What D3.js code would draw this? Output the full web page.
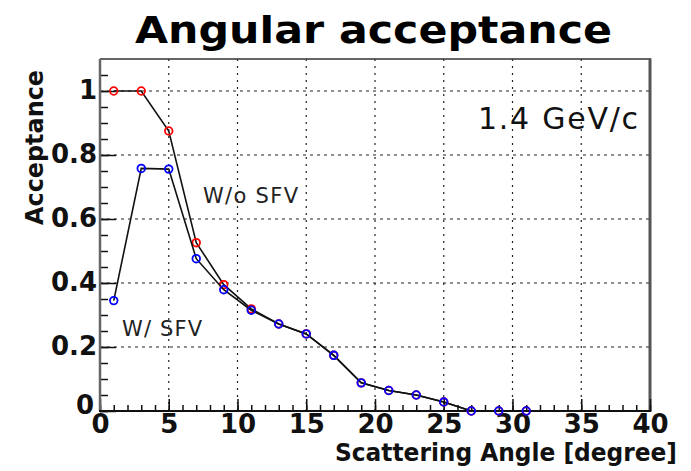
<!DOCTYPE html>
<html>
<head>
  <meta charset="UTF-8">
  <style>
body{
    margin: 0;
    background: #fff;
}
svg text{
    font-family: "DejaVu Sans", sans-serif;
}
  </style>
</head>
<body>
<svg></svg>

<script src="https://d3js.org/d3.v7.min.js"></script>
<script>

// data
const angle = [1, 3, 5, 7, 9, 11, 13, 15, 17, 19, 21, 23, 25, 27, 29, 31];
const accNoSfv = [1.0, 1.0, 0.875, 0.526, 0.395, 0.319, 0.272, 0.241, 0.174, 0.088, 0.064, 0.05, 0.028, 0, 0, 0];
const accSfv = [0.345, 0.758, 0.756, 0.476, 0.379, 0.315, 0.272, 0.241, 0.174, 0.088, 0.064, 0.05, 0.028, 0, 0, 0];
const xTicks = [0, 5, 10, 15, 20, 25, 30, 35, 40];
const yTicks = [0, 0.2, 0.4, 0.6, 0.8, 1];

let width = 691, height = 471;
let padL = 100, padR = 650, padT = 59, padB = 411;

let svg = d3.select("svg")
    .attr("width", width)
    .attr("height", height)

let x = d3.scaleLinear().domain([0, 40]).range([padL, padR]);
let y = d3.scaleLinear().domain([0, 1.1]).range([padB, padT]);

// grid
svg.append("g")
  .selectAll("line")
  .data(xTicks.filter(d => d > 0 && d < 40))
  .enter()
  .append("line")
    .attr("x1", d => x(d)).attr("x2", d => x(d))
    .attr("y1", padT).attr("y2", padB)
    .attr("stroke", "#222")
    .attr("stroke-width", 1.2)
    .attr("stroke-dasharray", "2,5")

svg.append("g")
  .selectAll("line")
  .data(yTicks.filter(d => d > 0))
  .enter()
  .append("line")
    .attr("x1", padL).attr("x2", padR)
    .attr("y1", d => y(d)).attr("y2", d => y(d))
    .attr("stroke", "#222")
    .attr("stroke-width", 1.2)
    .attr("stroke-dasharray", "3,4")

// frame
svg.append("line")
    .attr("x1", padL).attr("x2", padR + 1)
    .attr("y1", padT).attr("y2", padT)
    .attr("stroke", "#333").attr("stroke-width", 1.5)
svg.append("line")
    .attr("x1", padR).attr("x2", padR)
    .attr("y1", padT - 0.5).attr("y2", padB + 1)
    .attr("stroke", "#555").attr("stroke-width", 3)

// x axis: minor + major ticks pointing inward
let xMinor = svg.append("g")
    .attr("transform", "translate(0," + padB + ")")
    .call(d3.axisBottom(x).ticks(40).tickSize(-6).tickFormat(""))
let xMajor = svg.append("g")
    .attr("transform", "translate(0," + padB + ")")
    .call(d3.axisBottom(x).tickValues(xTicks).tickSize(-12).tickPadding(4).tickFormat(d3.format("d")))

// y axis
let yMinor = svg.append("g")
    .attr("transform", "translate(" + padL + ",0)")
    .call(d3.axisLeft(y).tickValues(d3.range(0, 22).map(i => i * 0.05)).tickSize(-8).tickFormat(""))
let yMajor = svg.append("g")
    .attr("transform", "translate(" + padL + ",0)")
    .call(d3.axisLeft(y).tickValues(yTicks).tickSize(-16).tickPadding(3).tickFormat(d => d === 1 ? "1" : d === 0 ? "0" : d3.format(".1f")(d)))

svg.selectAll(".domain").remove()
svg.selectAll(".tick line").attr("stroke", "#111").attr("stroke-width", 1.5)

xMajor.selectAll("text")
    .attr("fill", "#111")
    .attr("font-size", 26)
    .attr("font-weight", "bold")
    .attr("font-family", "DejaVu Sans")

yMajor.selectAll("text")
    .attr("fill", "#111")
    .attr("font-size", 26)
    .attr("font-weight", "bold")
    .attr("font-family", "DejaVu Sans")
    .attr("x", d => d === 0 ? -6 : -3)
    .attr("dy", d => d === 0 ? "0.1em" : "0.3em")

// axis lines
svg.append("line")
    .attr("x1", padL).attr("x2", padL)
    .attr("y1", padT).attr("y2", padB)
    .attr("stroke", "#666").attr("stroke-width", 2.5)
svg.append("line")
    .attr("x1", padL - 1).attr("x2", padR + 1)
    .attr("y1", padB).attr("y2", padB)
    .attr("stroke", "#111").attr("stroke-width", 2)

// curves
let line = d3.line()
    .x((d, i) => x(angle[i]))
    .y(d => y(d))

function drawSeries(values, color) {
    svg.append("path")
        .datum(values)
        .attr("fill", "none")
        .attr("stroke", "#111")
        .attr("stroke-width", 1.6)
        .attr("d", line)
    svg.append("g")
      .selectAll("circle")
      .data(values)
      .enter()
      .append("circle")
        .attr("cx", (d, i) => x(angle[i]))
        .attr("cy", d => y(d))
        .attr("r", 3.8)
        .attr("fill", "none")
        .attr("stroke", color)
        .attr("stroke-width", 1.8)
}
drawSeries(accNoSfv, "#f00")
drawSeries(accSfv, "#00f")

// texts
svg.append("text")
    .attr("x", 373.5).attr("y", 43)
    .attr("text-anchor", "middle")
    .attr("font-size", 38)
    .attr("font-weight", "bold")
    .attr("textLength", 477)
    .attr("lengthAdjust", "spacingAndGlyphs")
    .attr("fill", "#000")
    .text("Angular acceptance")

svg.append("text")
    .attr("x", 677).attr("y", 461)
    .attr("text-anchor", "end")
    .attr("font-size", 24)
    .attr("font-weight", "bold")
    .attr("textLength", 342)
    .attr("lengthAdjust", "spacingAndGlyphs")
    .attr("fill", "#111")
    .text("Scattering Angle [degree]")

svg.append("text")
    .attr("transform", "translate(43,147.5) rotate(-90)")
    .attr("text-anchor", "middle")
    .attr("font-size", 24)
    .attr("font-weight", "bold")
    .attr("textLength", 155)
    .attr("lengthAdjust", "spacingAndGlyphs")
    .attr("fill", "#111")
    .text("Acceptance")

svg.append("text")
    .attr("x", 478).attr("y", 129)
    .attr("font-size", 30)
    .attr("font-family", "Liberation Sans")
    .attr("textLength", 160)
    .attr("lengthAdjust", "spacing")
    .attr("fill", "#111")
    .text("1.4 GeV/c")

svg.append("text")
    .attr("x", 203).attr("y", 203)
    .attr("font-size", 21)
    .attr("font-family", "Liberation Sans")
    .attr("textLength", 95)
    .attr("lengthAdjust", "spacing")
    .attr("fill", "#222")
    .text("W/o SFV")

svg.append("text")
    .attr("x", 122).attr("y", 336)
    .attr("font-size", 21)
    .attr("font-family", "Liberation Sans")
    .attr("textLength", 80)
    .attr("lengthAdjust", "spacing")
    .attr("fill", "#222")
    .text("W/ SFV")

</script>
</body>
</html>
